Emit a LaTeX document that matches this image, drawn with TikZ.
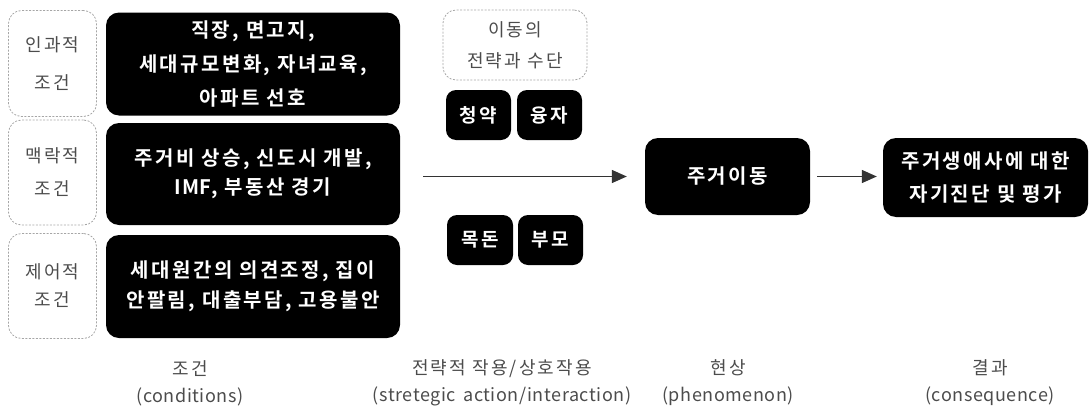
\documentclass[tikz,border=0pt]{standalone}
\usepackage{fontspec}
\setmainfont{Noto Sans CJK KR}[LetterSpace=12,BoldFont={Noto Sans CJK KR Bold}]
\newfontfamily\lat{Noto Sans CJK KR}[LetterSpace=3,BoldFont={Noto Sans CJK KR Bold}]
\usetikzlibrary{arrows.meta}
\begin{document}
\begin{tikzpicture}[x=1pt,y=-1pt,
  blk/.style={fill=black, rounded corners=13pt, text=white, align=center, inner sep=0pt},
  sblk/.style={blk, rounded corners=10pt, font=\bfseries\fontsize{19}{24}\selectfont},
  dsh/.style={draw=black!35, dash pattern=on 2pt off 1.5pt, line width=0.8pt, rounded corners=13pt, text=black!70, align=center, inner sep=0pt},
  lbl/.style={text=black!70, align=center, inner sep=0pt, font=\fontsize{18}{27}\selectfont},
  arr/.style={draw=black!80, line width=1.4pt, -{Triangle[length=15pt,width=13pt]}}]
\useasboundingbox (0,0) rectangle (1089,407);
% condition labels
\node[dsh, minimum width=88pt, minimum height=106pt, font=\fontsize{18}{38}\selectfont] (c1) at (52.5,63.5) {인과적\\조건};
\node[dsh, minimum width=88pt, minimum height=105pt, font=\fontsize{18}{33}\selectfont] (c2) at (52.5,172.5) {맥락적\\조건};
\node[dsh, minimum width=88pt, minimum height=105pt, font=\fontsize{18}{28}\selectfont] (c3) at (52.5,286) {제어적\\조건};
% condition contents
\node[blk, minimum width=294pt, minimum height=103pt, font=\bfseries\fontsize{20}{34}\selectfont] (b1) at (253,64) {직장, 면고지,\\세대규모변화, 자녀교육,\\아파트 선호};
\node[blk, minimum width=294pt, minimum height=102pt, font=\bfseries\fontsize{20}{29}\selectfont] (b2) at (253,174) {주거비 상승, 신도시 개발,\\{\lat\bfseries IMF}, 부동산 경기};
\node[blk, minimum width=294pt, minimum height=103pt, font=\bfseries\fontsize{20}{30}\selectfont] (b3) at (253,286.5) {세대원간의 의견조정, 집이\\안팔림, 대출부담, 고용불안};
% strategies
\node[dsh, minimum width=144pt, minimum height=70pt, font=\fontsize{18}{31}\selectfont] (s) at (515,45) {이동의\\전략과 수단};
\node[sblk, minimum width=65pt, minimum height=50pt] (k1) at (478.5,115) {청약};
\node[sblk, minimum width=65pt, minimum height=50pt] (k2) at (549.5,115) {융자};
\node[sblk, minimum width=66pt, minimum height=50pt] (k3) at (480,240) {목돈};
\node[sblk, minimum width=65pt, minimum height=50pt] (k4) at (550.5,240) {부모};
% phenomenon and consequence
\node[blk, minimum width=165pt, minimum height=77pt, font=\bfseries\fontsize{20}{30}\selectfont] (ph) at (727.5,176.5) {주거이동};
\node[blk, minimum width=205pt, minimum height=79pt, font=\bfseries\fontsize{20}{33}\selectfont] (res) at (985.5,177.5) {주거생애사에 대한\\자기진단 및 평가};
% arrows
\coordinate (a0) at (423,176.5);
\draw[arr, shorten >=18pt] (a0) -- (a0 -| ph.west);
\draw[arr, shorten <=7pt, shorten >=6pt] (ph.east) -- (ph.east -| res.west);
% bottom labels
\node[lbl] (l1) at (190,383) {조건\\{\lat(conditions)}};
\node[lbl] (l2) at (502,383) {전략적 작용/상호작용\\{\lat(stretegic\, action/interaction)}};
\node[lbl] (l3) at (728,383) {현상\\{\lat(phenomenon)}};
\node[lbl] (l4) at (990,383) {결과\\{\lat(consequence)}};
\end{tikzpicture}
\end{document}
